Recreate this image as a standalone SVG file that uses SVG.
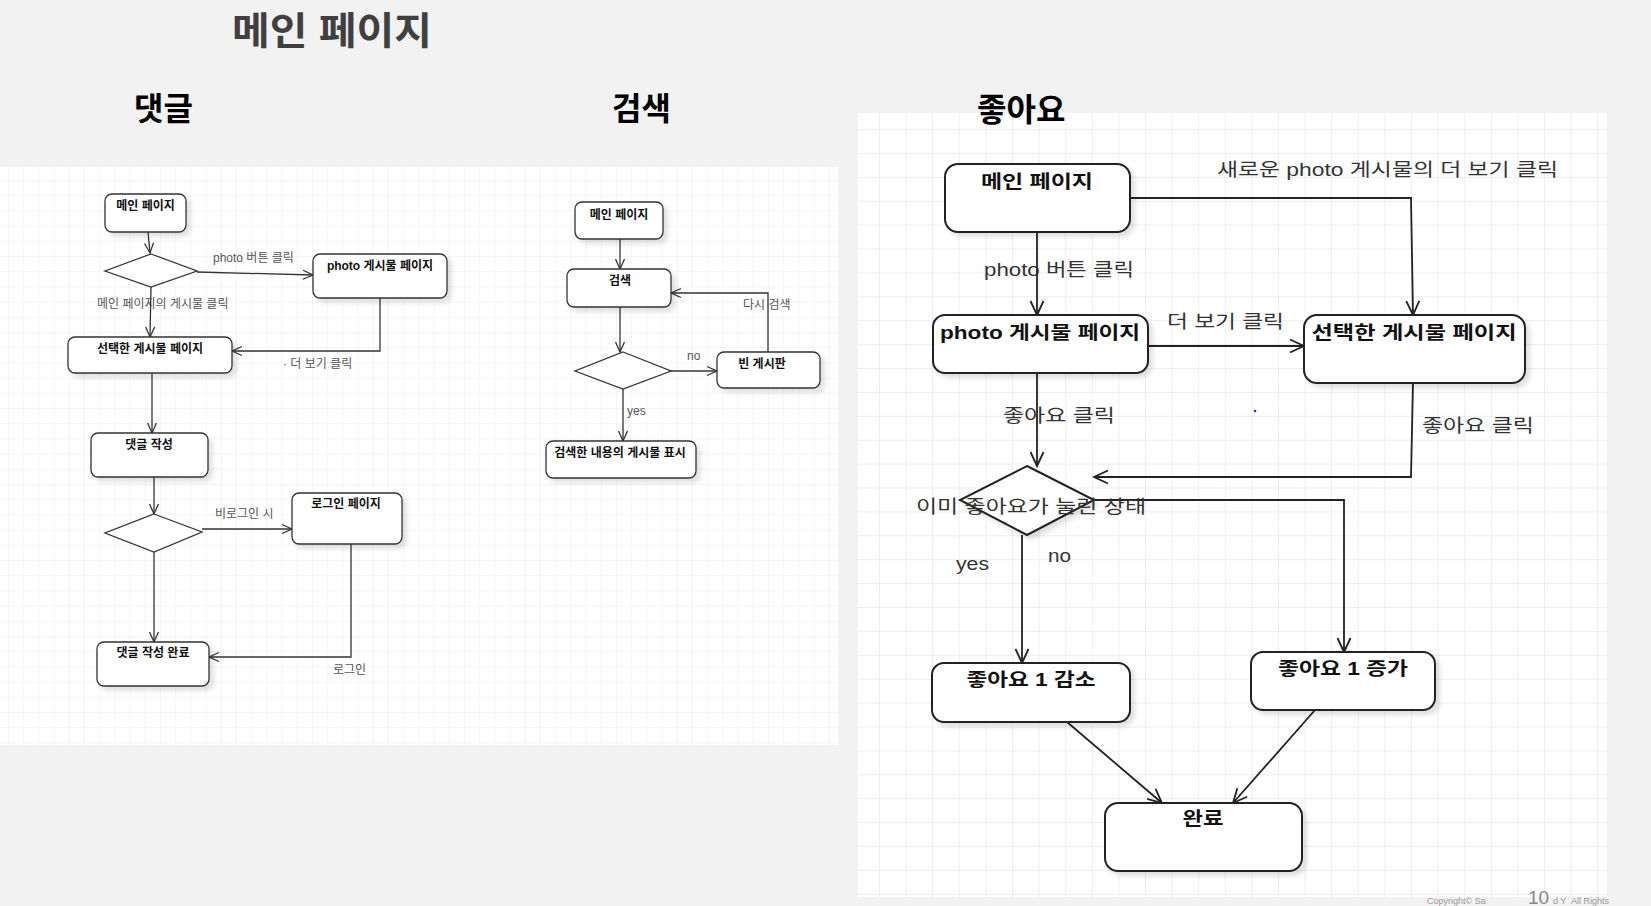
<svg xmlns="http://www.w3.org/2000/svg" width="1651" height="906" viewBox="0 0 1651 906">
<defs>
<style>
.f{font-family:"Liberation Sans","Noto Sans CJK KR",sans-serif}
.title{font-family:"Liberation Sans","Noto Sans CJK KR",sans-serif;font-weight:bold}
.n1{fill:#fff;stroke:#333;stroke-width:1.3}
.n3{fill:#fff;stroke:#222;stroke-width:2}
.t1{font-family:"Liberation Sans","Noto Sans CJK KR",sans-serif;font-size:12px;font-weight:bold;fill:#111;text-anchor:middle}
.l1{font-family:"Liberation Sans","Noto Sans CJK KR",sans-serif;font-size:12px;fill:#555}
.t3{font-family:"Liberation Sans","Noto Sans CJK KR",sans-serif;font-size:18px;font-weight:bold;fill:#111;text-anchor:middle}
.l3{font-family:"Liberation Sans","Noto Sans CJK KR",sans-serif;font-size:18px;fill:#333}
.c1{fill:none;stroke:#333;stroke-width:1.3}
.c3{fill:none;stroke:#222;stroke-width:1.8}
</style>
<pattern id="g1" patternUnits="userSpaceOnUse" x="8" y="12.8" width="15.2" height="15.2">
<path d="M0,0 V15.2 M0,0 H15.2" fill="none" stroke="#ebebeb" stroke-width="1"/>
</pattern>
<pattern id="g3" patternUnits="userSpaceOnUse" x="879" y="129" width="26.6" height="23.9">
<path d="M0,0 V23.9 M0,0 H26.6" fill="none" stroke="#e9e9e9" stroke-width="1.5"/>
</pattern>
<marker id="a1" markerUnits="userSpaceOnUse" markerWidth="12" markerHeight="12" refX="10" refY="5" orient="auto" overflow="visible">
<path d="M0,0.5 L10,5 L0,9.5" fill="none" stroke="#333" stroke-width="1.3"/>
</marker>
<marker id="a3" markerUnits="userSpaceOnUse" markerWidth="16" markerHeight="14" refX="14" refY="6.5" orient="auto" overflow="visible">
<path d="M0,0 L14,6.5 L0,13" fill="none" stroke="#222" stroke-width="1.8"/>
</marker>
<filter id="sh" x="-15%" y="-15%" width="140%" height="150%">
<feDropShadow dx="4" dy="4" stdDeviation="2.5" flood-color="#000" flood-opacity="0.12"/>
</filter>
</defs>

<rect x="0" y="0" width="1651" height="906" fill="#f2f2f2"/>

<g id="panels">
<rect x="0" y="167" width="838" height="578" fill="#fff"/>
<rect x="0" y="167" width="838" height="578" fill="url(#g1)"/>
<rect x="858" y="113" width="749" height="784" fill="#fff"/>
<rect x="858" y="113" width="749" height="784" fill="url(#g3)"/>
</g>

<g id="titles">
<text class="title" x="232" y="44" font-size="38" fill="#404040" textLength="200" lengthAdjust="spacingAndGlyphs">메인 페이지</text>
<text class="title" x="134" y="120" font-size="32" fill="#000">댓글</text>
<text class="title" x="612" y="120" font-size="32" fill="#000">검색</text>
<text class="title" x="977" y="121" font-size="32" fill="#000">좋아요</text>
</g>

<g id="edge-labels">
<text class="l1" x="213" y="262">photo 버튼 클릭</text>
<text class="l1" x="97" y="308">메인 페이지의 게시물 클릭</text>
<text class="l1" x="283" y="368">· 더 보기 클릭</text>
<text class="l1" x="215" y="518">비로그인 시</text>
<text class="l1" x="333" y="674">로그인</text>
<text class="l1" x="743" y="309">다시 검색</text>
<text class="l1" x="687" y="360">no</text>
<text class="l1" x="627" y="415">yes</text>
<text class="l3" x="1217" y="176" textLength="341" lengthAdjust="spacingAndGlyphs">새로운 photo 게시물의 더 보기 클릭</text>
<text class="l3" x="984" y="276" textLength="150" lengthAdjust="spacingAndGlyphs">photo 버튼 클릭</text>
<text class="l3" x="1167" y="328" textLength="117" lengthAdjust="spacingAndGlyphs">더 보기 클릭</text>
<text class="l3" x="1003" y="422" textLength="112" lengthAdjust="spacingAndGlyphs">좋아요 클릭</text>
<text class="l3" x="1422" y="432" textLength="112" lengthAdjust="spacingAndGlyphs">좋아요 클릭</text>
<text class="l3" x="956" y="570" textLength="33" lengthAdjust="spacingAndGlyphs">yes</text>
<text class="l3" x="1048" y="562" textLength="23" lengthAdjust="spacingAndGlyphs">no</text>
</g>

<g id="connectors">
<path class="c1" d="M148,232 L150,253" marker-end="url(#a1)"/>
<path class="c1" d="M197,272 L313,275" marker-end="url(#a1)"/>
<path class="c1" d="M151,287 L150,337" marker-end="url(#a1)"/>
<path class="c1" d="M380,298 L380,351 L232,351" marker-end="url(#a1)"/>
<path class="c1" d="M152,373 L152,433" marker-end="url(#a1)"/>
<path class="c1" d="M154,477 L154,514" marker-end="url(#a1)"/>
<path class="c1" d="M202,529 L292,529" marker-end="url(#a1)"/>
<path class="c1" d="M154,552 L154,642" marker-end="url(#a1)"/>
<path class="c1" d="M351,544 L351,657 L209,657" marker-end="url(#a1)"/>
<path class="c1" d="M620,239 L620,269" marker-end="url(#a1)"/>
<path class="c1" d="M620,307 L620,352" marker-end="url(#a1)"/>
<path class="c1" d="M671,371 L717,371" marker-end="url(#a1)"/>
<path class="c1" d="M768,352 L768,293 L671,293" marker-end="url(#a1)"/>
<path class="c1" d="M623,389 L623,441" marker-end="url(#a1)"/>
<path class="c3" d="M1130,198 L1411,198 L1413,315" marker-end="url(#a3)"/>
<path class="c3" d="M1037,232 L1037,315" marker-end="url(#a3)"/>
<path class="c3" d="M1148,346 L1304,346" marker-end="url(#a3)"/>
<path class="c3" d="M1037,373 L1037,466" marker-end="url(#a3)"/>
<path class="c3" d="M1413,383 L1411,477 L1094,477" marker-end="url(#a3)"/>
<path class="c3" d="M1094,500 L1344,500 L1344,652" marker-end="url(#a3)"/>
<path class="c3" d="M1022,535 L1022,663" marker-end="url(#a3)"/>
<path class="c3" d="M1067,722 L1162,803" marker-end="url(#a3)"/>
<path class="c3" d="M1315,710 L1233,803" marker-end="url(#a3)"/>
</g>

<g id="c-main"><rect class="n1" filter="url(#sh)" x="105" y="194" width="81" height="38" rx="7"/><text class="t1" x="145.5" y="210">메인 페이지</text></g>
<g id="c-dec1"><polygon class="n1" points="151,254 197,271 151,287 105,271"/></g>
<g id="c-photo"><rect class="n1" filter="url(#sh)" x="313" y="254" width="134" height="44" rx="7"/><text class="t1" x="380" y="270">photo 게시물 페이지</text></g>
<g id="c-selected"><rect class="n1" filter="url(#sh)" x="68" y="337" width="164" height="36" rx="7"/><text class="t1" x="150" y="353">선택한 게시물 페이지</text></g>
<g id="c-write"><rect class="n1" filter="url(#sh)" x="91" y="433" width="117" height="44" rx="7"/><text class="t1" x="149" y="449">댓글 작성</text></g>
<g id="c-dec2"><polygon class="n1" points="154,514 202,532 154,552 105,533"/></g>
<g id="c-login"><rect class="n1" filter="url(#sh)" x="292" y="493" width="110" height="51" rx="7"/><text class="t1" x="346" y="508">로그인 페이지</text></g>
<g id="c-done"><rect class="n1" filter="url(#sh)" x="97" y="642" width="112" height="44" rx="7"/><text class="t1" x="153" y="657">댓글 작성 완료</text></g>

<g id="s-main"><rect class="n1" filter="url(#sh)" x="575" y="202" width="88" height="37" rx="7"/><text class="t1" x="619" y="219">메인 페이지</text></g>
<g id="s-search"><rect class="n1" filter="url(#sh)" x="567" y="269" width="104" height="38" rx="7"/><text class="t1" x="620" y="285">검색</text></g>
<g id="s-dec"><polygon class="n1" points="623,352 671,371 623,389 575,371"/></g>
<g id="s-empty"><rect class="n1" filter="url(#sh)" x="717" y="352" width="103" height="36" rx="7"/><text class="t1" x="762" y="368">빈 게시판</text></g>
<g id="s-result"><rect class="n1" filter="url(#sh)" x="546" y="441" width="150" height="37" rx="7"/><text class="t1" x="620" y="457">검색한 내용의 게시물 표시</text></g>

<g id="l-main"><rect class="n3" filter="url(#sh)" x="945" y="164" width="185" height="68" rx="13"/><text class="t3" x="1037" y="188" textLength="112" lengthAdjust="spacingAndGlyphs">메인 페이지</text></g>
<g id="l-photo"><rect class="n3" filter="url(#sh)" x="933" y="315" width="215" height="58" rx="12"/><text class="t3" x="1040" y="339" textLength="200" lengthAdjust="spacingAndGlyphs">photo 게시물 페이지</text></g>
<g id="l-selected"><rect class="n3" filter="url(#sh)" x="1304" y="315" width="221" height="68" rx="13"/><text class="t3" x="1414" y="339" textLength="205" lengthAdjust="spacingAndGlyphs">선택한 게시물 페이지</text></g>
<g id="l-dec"><polygon class="n3" filter="url(#sh)" points="1027,466 1094,500 1027,535 960,500"/><text class="l3" x="916" y="513" textLength="230" lengthAdjust="spacingAndGlyphs">이미 좋아요가 눌린 상태</text></g>
<g id="l-dec1"><rect class="n3" filter="url(#sh)" x="932" y="663" width="198" height="59" rx="12"/><text class="t3" x="1031" y="686" textLength="129" lengthAdjust="spacingAndGlyphs">좋아요 1 감소</text></g>
<g id="l-inc1"><rect class="n3" filter="url(#sh)" x="1251" y="652" width="184" height="58" rx="12"/><text class="t3" x="1343" y="675" textLength="130" lengthAdjust="spacingAndGlyphs">좋아요 1 증가</text></g>
<g id="l-done"><rect class="n3" filter="url(#sh)" x="1105" y="803" width="197" height="68" rx="13"/><text class="t3" x="1203" y="825" textLength="41" lengthAdjust="spacingAndGlyphs">완료</text></g>

<circle cx="1255" cy="411" r="1.3" fill="#2233dd"/>

<g id="footer">
<text class="f" x="1427" y="904" font-size="9" fill="#999">Copyright© Sa</text>
<text class="f" x="1553" y="904" font-size="9" fill="#999">d Y</text>
<text class="f" x="1571" y="904" font-size="9" fill="#999">All Rights</text>
<text class="f" x="1528" y="904" font-size="19" fill="#888">10</text>
</g>
</svg>
